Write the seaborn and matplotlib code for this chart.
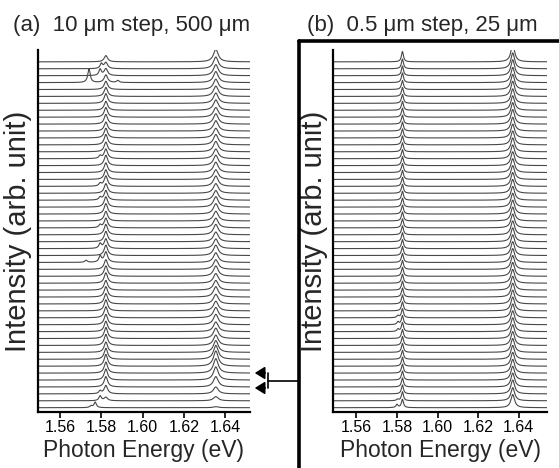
import numpy as np
import pandas as pd
import seaborn as sns
import matplotlib.pyplot as plt
from matplotlib.patches import FancyArrowPatch

sns.set_theme(style="ticks")
plt.rcParams['font.family'] = ['Liberation Sans', 'DejaVu Sans']

# traces are listed bottom (0) to top (50), heights in units of trace spacing
n_traces = 51

# panel (a): 10 um step, 500 um
a_p1_pos = 1.5822
a_p2_pos = 1.6355
a_p1_height = [0.0, 0.5, 1.2, 1.5, 1.6, 1.6, 1.7, 1.6, 1.5, 1.6,
               1.6, 1.5, 1.5, 1.6, 1.6, 1.5, 1.5, 1.4, 1.5, 1.5,
               1.4, 1.5, 1.5, 1.4, 1.5, 1.5, 1.4, 1.4, 1.5, 1.5,
               1.4, 1.4, 1.5, 1.4, 1.4, 1.5, 1.4, 1.4, 1.5, 1.4,
               1.3, 1.4, 1.4, 1.3, 1.4, 1.3, 1.2, 1.1, 1.0, 0.9, 0.9]
a_p2_height = [0.15, 0.6, 1.0, 1.5, 1.9, 2.1, 2.2, 2.0, 1.7, 1.5,
               1.5, 1.4, 1.5, 1.5, 1.4, 1.4, 1.5, 1.4, 1.4, 1.5,
               1.4, 1.4, 1.5, 1.4, 1.4, 1.5, 1.4, 1.4, 1.5, 1.5,
               1.4, 1.4, 1.5, 1.4, 1.5, 1.5, 1.4, 1.5, 1.5, 1.4,
               1.5, 1.5, 1.4, 1.5, 1.5, 1.5, 1.5, 1.6, 1.6, 1.7, 1.8]
a_extra_trace = [0, 0, 1, 2, 21, 21, 23, 26, 30, 32, 36, 47, 47, 48, 49]
a_extra_pos = [1.5770, 1.5750, 1.5794, 1.5794, 1.5726, 1.5794, 1.5794, 1.5794,
               1.5794, 1.5794, 1.5794, 1.5740, 1.5880, 1.5794, 1.5800]
a_extra_height = [0.8, 0.25, 0.7, 0.4, 0.3, 0.9, 0.7, 0.4,
                  0.4, 0.4, 0.4, 2.0, 0.3, 0.9, 0.7]

# panel (b): 0.5 um step, 25 um
b_p1_pos = 1.5827
b_p2_pos = 1.6370
b_p1_height = [1.2, 1.3, 1.3, 1.3, 1.3, 1.3, 1.3, 1.3, 1.3, 1.3,
               1.3, 1.3, 1.3, 1.3, 1.3, 1.3, 1.3, 1.3, 1.3, 1.3,
               1.3, 1.3, 1.3, 1.3, 1.3, 1.3, 1.3, 1.3, 1.3, 1.3,
               1.3, 1.3, 1.3, 1.3, 1.3, 1.3, 1.3, 1.3, 1.3, 1.3,
               1.3, 1.3, 1.3, 1.3, 1.3, 1.3, 1.3, 1.4, 1.4, 1.4, 1.5]
b_p2_height = [1.9, 1.9, 2.0, 2.0, 2.0, 2.0, 2.0, 2.0, 2.0, 2.0,
               2.0, 2.0, 2.0, 2.0, 2.0, 2.0, 2.0, 2.0, 2.0, 2.0,
               2.0, 2.0, 2.0, 2.0, 2.0, 2.0, 2.0, 2.0, 2.0, 2.0,
               2.0, 2.0, 2.0, 2.0, 2.0, 2.0, 2.0, 2.0, 2.0, 2.0,
               2.0, 2.1, 2.1, 2.1, 2.1, 2.2, 2.2, 2.2, 2.3, 2.3, 2.5]
b_extra_trace = [0, 1, 11, 12, 13]
b_extra_pos = [1.5800, 1.5803, 1.5805, 1.5805, 1.5805]
b_extra_height = [0.45, 0.2, 0.35, 0.4, 0.3]

xticks = [1.56, 1.58, 1.60, 1.62, 1.64]
titles = ["(a)  10 \u03bcm step, 500 \u03bcm", "(b)  0.5 \u03bcm step, 25 \u03bcm"]


def lorentz(x, x0, h, w):
    return h / (1 + ((x - x0) / w) ** 2)


def build_frame(p1_pos, p1_h, p1_w, p2_pos, p2_h, p2_w, ex_t, ex_p, ex_h, ex_w):
    energy = np.linspace(1.549, 1.654, 1400)
    rows = []
    for i in range(n_traces):
        y = i + lorentz(energy, p1_pos, p1_h[i], p1_w) + lorentz(energy, p2_pos, p2_h[i], p2_w)
        for t, p, h in zip(ex_t, ex_p, ex_h):
            if t == i:
                y = y + lorentz(energy, p, h, ex_w)
        rows.append(pd.DataFrame({"energy": energy, "intensity": y, "trace": i}))
    return pd.concat(rows, ignore_index=True)


df_a = build_frame(a_p1_pos, a_p1_height, 0.0010, a_p2_pos, a_p2_height, 0.0014,
                   a_extra_trace, a_extra_pos, a_extra_height, 0.0007)
df_b = build_frame(b_p1_pos, b_p1_height, 0.0006, b_p2_pos, b_p2_height, 0.0011,
                   b_extra_trace, b_extra_pos, b_extra_height, 0.0006)

fig = plt.figure(figsize=(5.59, 4.68), dpi=100)
ax_a = fig.add_axes([0.068, 0.12, 0.379, 0.773])
ax_b = fig.add_axes([0.596, 0.12, 0.383, 0.773])

for ax, df, title, xl in [(ax_a, df_a, titles[0], (1.5493, 1.652)),
                          (ax_b, df_b, titles[1], (1.5486, 1.654))]:
    sns.lineplot(data=df, x="energy", y="intensity", units="trace", estimator=None,
                 color="#484848", linewidth=0.8, ax=ax, legend=False)
    ax.set_xlim(*xl)
    ax.set_ylim(-0.6, 51.7)
    ax.set_xticks(xticks)
    ax.set_xticklabels([f"{v:.2f}" for v in xticks], fontsize=11.5)
    ax.set_yticks([])
    ax.set_xlabel("Photon Energy (eV)", fontsize=16.5, labelpad=3)
    ax.set_ylabel("Intensity (arb. unit)", fontsize=21, labelpad=4)
    ax.set_title(title, fontsize=16, loc="left", x=-0.12, pad=14)
    for s in ["top", "right"]:
        ax.spines[s].set_visible(False)
    for s in ["left", "bottom"]:
        ax.spines[s].set_linewidth(1.6)
        ax.spines[s].set_color("black")
    ax.tick_params(axis="x", direction="out", length=4, width=1.2, colors="black", pad=2)

# thick frame around panel (b)
W, H = 559, 468
fig.add_artist(plt.Line2D([299 / W, 1.0], [1 - 41 / H, 1 - 41 / H], transform=fig.transFigure,
                          color="black", linewidth=2.6))
fig.add_artist(plt.Line2D([299 / W, 299 / W], [1 - 41 / H, 0.0], transform=fig.transFigure,
                          color="black", linewidth=2.6))

# bracket with arrows pointing at two traces of panel (a)
ya, yb, ym = 1 - 373 / H, 1 - 388 / H, 1 - 380.5 / H
xb = 268 / W
fig.add_artist(plt.Line2D([xb, xb], [ya, yb], transform=fig.transFigure, color="black", linewidth=1.2))
fig.add_artist(plt.Line2D([xb, 299 / W], [ym, ym], transform=fig.transFigure, color="black", linewidth=1.2))
for yy in (ya, yb):
    fig.add_artist(FancyArrowPatch((xb, yy), (252 / W, yy), transform=fig.transFigure,
                                   arrowstyle="-|>,head_length=4,head_width=2.5",
                                   color="black", linewidth=1.2, mutation_scale=1.5))

fig.savefig("out.png", dpi=100)
